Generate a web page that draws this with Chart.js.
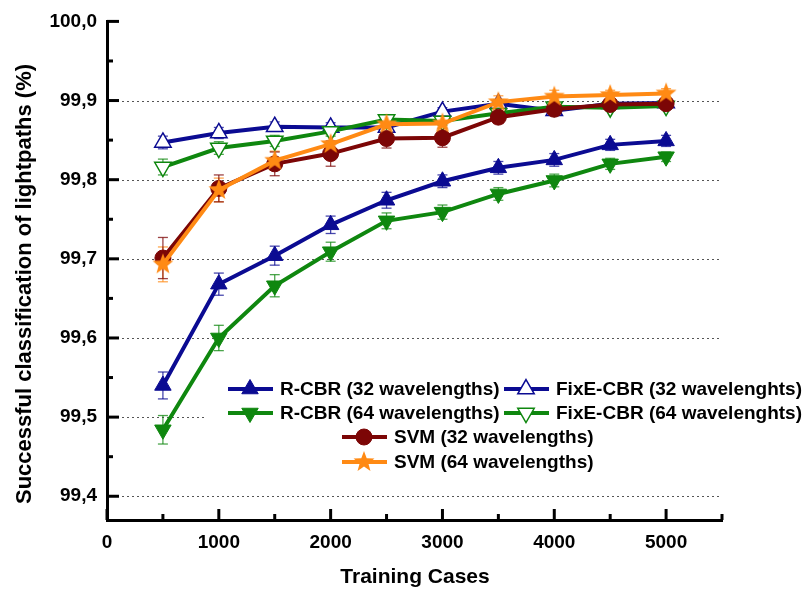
<!DOCTYPE html>
<html>
<head>
<meta charset="utf-8">
<script src="https://cdn.jsdelivr.net/npm/chart.js@4/dist/chart.umd.min.js"></script>
<style>
  body { margin: 0; background: #fff; }
  #wrap { width: 805px; height: 590px; }
</style>
</head>
<body>
<div id="wrap"><canvas id="chart" width="805" height="590"></canvas></div>
<script>
// ----------- Data -----------
const trainingCases = [500, 1000, 1500, 2000, 2500, 3000, 3500, 4000, 4500, 5000];

const rcbr32 = [99.540, 99.668, 99.704, 99.743, 99.774, 99.798, 99.815, 99.825, 99.844, 99.849];
const rcbr64 = [99.484, 99.600, 99.666, 99.709, 99.748, 99.759, 99.782, 99.799, 99.820, 99.829];
const fixe32 = [99.847, 99.859, 99.867, 99.866, 99.866, 99.886, 99.896, 99.887, 99.896, 99.897];
const fixe64 = [99.816, 99.840, 99.849, 99.861, 99.876, 99.874, 99.884, 99.892, 99.891, 99.893];
const svm32 = [99.701, 99.789, 99.820, 99.833, 99.852, 99.853, 99.879, 99.889, 99.895, 99.896];
const svm64 = [99.693, 99.787, 99.824, 99.845, 99.870, 99.871, 99.898, 99.905, 99.907, 99.909];

// standard deviations (error bars)
const rcbr32Err = [0.017, 0.014, 0.012, 0.011, 0.010, 0.008, 0.008, 0.008, 0.007, 0.007];
const rcbr64Err = [0.018, 0.016, 0.014, 0.012, 0.010, 0.009, 0.008, 0.008, 0.007, 0.006];
const fixe32Err = [0.008, 0.007, 0.006, 0.006, 0.006, 0.005, 0.005, 0.005, 0.004, 0.004];
const fixe64Err = [0.010, 0.008, 0.007, 0.006, 0.006, 0.005, 0.005, 0.005, 0.004, 0.004];
const svm32Err = [0.026, 0.017, 0.015, 0.016, 0.012, 0.012, 0.008, 0.008, 0.006, 0.006];
const svm64Err = [0.022, 0.015, 0.012, 0.012, 0.010, 0.010, 0.008, 0.008, 0.006, 0.006];

const yMajorTicks = [99.4, 99.5, 99.6, 99.7, 99.8, 99.9, 100.0];
const yMinorTicks = [99.45, 99.55, 99.65, 99.75, 99.85, 99.95];
const xMajorTicks = [0, 1000, 2000, 3000, 4000, 5000];
const xMinorTicks = [500, 1500, 2500, 3500, 4500, 5500];

const NAVY = '#0b0b92';
const GREEN = '#0f870f';
const DARKRED = '#7c0606';
const ORANGE = '#ff8a14';
const FONT = "'Liberation Sans', Arial, sans-serif";

// ----------- Filled star marker -----------
const makeStar = (color, r) => {
  const c = document.createElement('canvas');
  c.width = c.height = r * 2 + 2;
  const g = c.getContext('2d');
  g.beginPath();
  for (let i = 0; i < 10; i++) {
    const rad = i % 2 === 0 ? r : r * 0.42;
    const a = -Math.PI / 2 + i * Math.PI / 5;
    g.lineTo(r + 1 + rad * Math.cos(a), r + 1 + rad * Math.sin(a));
  }
  g.closePath();
  g.fillStyle = color;
  g.fill();
  return c;
};
const starImg = makeStar(ORANGE, 11);

const toPoints = vals => vals.map((v, i) => ({ x: trainingCases[i], y: v }));

const series = [
  { label: 'SVM (64 wavelengths)', data: svm64, err: svm64Err, color: ORANGE, style: starImg, rot: 0, radius: 11, fill: ORANGE, bw: 0 },
  { label: 'SVM (32 wavelengths)', data: svm32, err: svm32Err, color: DARKRED, style: 'circle', rot: 0, radius: 8, fill: DARKRED, bw: 1 },
  { label: 'FixE-CBR (64 wavelenghts)', data: fixe64, err: fixe64Err, color: GREEN, style: 'triangle', rot: 180, radius: 9.5, fill: '#ffffff', bw: 1.5 },
  { label: 'FixE-CBR (32 wavelenghts)', data: fixe32, err: fixe32Err, color: NAVY, style: 'triangle', rot: 0, radius: 9.5, fill: '#ffffff', bw: 1.5 },
  { label: 'R-CBR (64 wavelengths)', data: rcbr64, err: rcbr64Err, color: GREEN, style: 'triangle', rot: 180, radius: 9.5, fill: GREEN, bw: 1 },
  { label: 'R-CBR (32 wavelengths)', data: rcbr32, err: rcbr32Err, color: NAVY, style: 'triangle', rot: 0, radius: 9.5, fill: NAVY, bw: 1 }
];

// ----------- Grid, tick marks, error bars -----------
const axisDecor = {
  id: 'axisDecor',
  beforeDatasetsDraw(chart) {
    const { ctx, chartArea, scales: { x, y } } = chart;
    const seg = (x1, y1, x2, y2) => { ctx.beginPath(); ctx.moveTo(x1, y1); ctx.lineTo(x2, y2); ctx.stroke(); };
    ctx.save();

    // dotted horizontal grid
    ctx.strokeStyle = '#555';
    ctx.lineWidth = 1;
    ctx.setLineDash([2, 3]);
    yMajorTicks.slice(0, -1).forEach(v => {
      const py = Math.round(y.getPixelForValue(v)) + 0.5;
      seg(chartArea.left, py, chartArea.right, py);
    });
    ctx.setLineDash([]);

    // inward tick marks
    ctx.strokeStyle = '#000';
    ctx.lineWidth = 3;
    yMajorTicks.forEach(v => { const py = y.getPixelForValue(v); seg(chartArea.left, py, chartArea.left + 12, py); });
    yMinorTicks.forEach(v => { const py = y.getPixelForValue(v); seg(chartArea.left, py, chartArea.left + 6, py); });
    xMajorTicks.forEach(v => { const px = x.getPixelForValue(v); seg(px, chartArea.bottom, px, chartArea.bottom - 11); });
    xMinorTicks.forEach(v => { const px = x.getPixelForValue(v); seg(px, chartArea.bottom, px, chartArea.bottom - 6); });

    // legend box knocks out the grid behind it
    ctx.fillStyle = '#fff';
    ctx.fillRect(205, 373, chartArea.right - 205 + 90, 104);

    // error bars
    ctx.lineWidth = 1.3;
    series.forEach(s => {
      ctx.strokeStyle = s.color;
      ctx.globalAlpha = 0.75;
      s.data.forEach((v, i) => {
        const px = x.getPixelForValue(trainingCases[i]);
        const top = y.getPixelForValue(v + s.err[i]);
        const bot = y.getPixelForValue(v - s.err[i]);
        seg(px, top, px, bot);
        seg(px - 5, top, px + 5, top);
        seg(px - 5, bot, px + 5, bot);
      });
    });
    ctx.restore();
  }
};

// ----------- Axis titles and legend -----------
const legendRows = [
  { name: 'R-CBR (32 wavelengths)', x: 228, y: 389 },
  { name: 'FixE-CBR (32 wavelenghts)', x: 504, y: 389 },
  { name: 'R-CBR (64 wavelengths)', x: 228, y: 413 },
  { name: 'FixE-CBR (64 wavelenghts)', x: 504, y: 413 },
  { name: 'SVM (32 wavelengths)', x: 342, y: 437 },
  { name: 'SVM (64 wavelengths)', x: 342, y: 462 }
];

const decorText = {
  id: 'decorText',
  afterDraw(chart) {
    const { ctx } = chart;
    ctx.save();
    ctx.fillStyle = '#000';

    // y title
    ctx.font = `bold 22px ${FONT}`;
    ctx.textAlign = 'center';
    ctx.textBaseline = 'middle';
    ctx.translate(25, 284);
    ctx.rotate(-Math.PI / 2);
    ctx.fillText('Successful classification of lightpaths (%)', 0, 0);
    ctx.setTransform(1, 0, 0, 1, 0, 0);

    // x title
    ctx.font = `bold 21px ${FONT}`;
    ctx.fillText('Training Cases', 415, 577);

    // legend
    ctx.textAlign = 'left';
    ctx.font = `bold 19px ${FONT}`;
    legendRows.forEach(row => {
      const s = series.find(d => d.label === row.name);
      ctx.strokeStyle = s.color;
      ctx.lineWidth = 4;
      ctx.beginPath();
      ctx.moveTo(row.x, row.y);
      ctx.lineTo(row.x + 45, row.y);
      ctx.stroke();
      ctx.fillStyle = s.fill;
      ctx.lineWidth = s.bw;
      Chart.helpers.drawPoint(ctx, {
        pointStyle: s.style, rotation: s.rot, radius: s.radius, borderWidth: s.bw
      }, row.x + 22, row.y);
      ctx.fillStyle = '#000';
      ctx.fillText(row.name, row.x + 52, row.y + 1);
    });
    ctx.restore();
  }
};

new Chart(document.getElementById('chart').getContext('2d'), {
  type: 'line',
  data: {
    datasets: series.map(s => ({
      label: s.label,
      data: toPoints(s.data),
      borderColor: s.color,
      borderWidth: 4,
      backgroundColor: s.fill,
      pointStyle: s.style,
      pointRotation: s.rot,
      pointRadius: s.radius,
      pointBackgroundColor: s.fill,
      pointBorderColor: s.color,
      pointBorderWidth: s.bw,
      tension: 0,
      fill: false
    }))
  },
  options: {
    responsive: false,
    animation: false,
    layout: { padding: { top: 20, right: 83, left: 0, bottom: 0 } },
    plugins: { legend: { display: false }, tooltip: { enabled: false } },
    scales: {
      x: {
        type: 'linear',
        min: 0,
        max: 5500,
        afterBuildTicks: scale => { scale.ticks = xMajorTicks.map(v => ({ value: v })); },
        afterFit: scale => { scale.height = 70; },
        grid: { display: false, drawTicks: false },
        border: { display: true, color: '#000', width: 3 },
        ticks: {
          autoSkip: false,
          maxRotation: 0,
          padding: 11,
          color: '#000',
          font: { family: FONT, size: 19, weight: 'bold' },
          callback: v => String(v)
        }
      },
      y: {
        min: 99.37,
        max: 100.0,
        afterBuildTicks: scale => { scale.ticks = yMajorTicks.map(v => ({ value: v })); },
        afterFit: scale => { scale.width = 107; },
        grid: { display: false, drawTicks: false },
        border: { display: true, color: '#000', width: 3 },
        ticks: {
          padding: 10,
          color: '#000',
          font: { family: FONT, size: 19, weight: 'bold' },
          callback: v => v.toFixed(1).replace('.', ',')
        }
      }
    }
  },
  plugins: [axisDecor, decorText]
});
</script>
</body>
</html>
